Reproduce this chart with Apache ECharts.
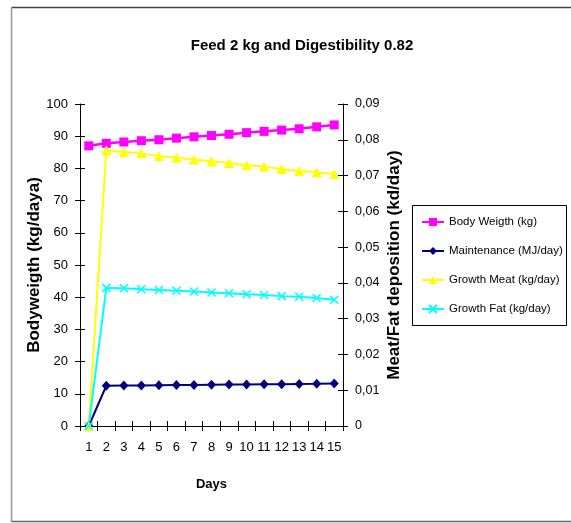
<!DOCTYPE html>
<html>
<head>
<meta charset="utf-8">
<script src="https://cdn.jsdelivr.net/npm/echarts@6/dist/echarts.min.js"></script>
<style>html,body{margin:0;padding:0;background:#fff;}#c{width:571px;height:523px;}</style>
</head>
<body>
<div id="c"></div>
<script>
const days = ['1','2','3','4','5','6','7','8','9','10','11','12','13','14','15'];
const bodyWeight = [87.0, 87.8, 88.2, 88.6, 88.9, 89.4, 89.8, 90.2, 90.6, 91.1, 91.5, 91.9, 92.3, 92.9, 93.5];
const maintenance = [0, 12.5, 12.55, 12.6, 12.65, 12.7, 12.75, 12.8, 12.85, 12.9, 12.95, 13.0, 13.05, 13.1, 13.2];
const growthMeat = [0, 0.0771, 0.0766, 0.0762, 0.0755, 0.0750, 0.0745, 0.0740, 0.0735, 0.0729, 0.0725, 0.0718, 0.0713, 0.0709, 0.0704];
const growthFat = [0, 0.0386, 0.0385, 0.0382, 0.0380, 0.0378, 0.0376, 0.0373, 0.0371, 0.0368, 0.0366, 0.0363, 0.0361, 0.0358, 0.0353];
const seriesNames = ['Body Weigth (kg)', 'Maintenance (MJ/day)', 'Growth Meat (kg/day)', 'Growth Fat (kg/day)'];
const titleText = 'Feed 2 kg and Digestibility 0.82';
const xTitle = 'Days';
const leftTitle = 'Bodyweigth (kg/daya)';
const rightTitle = 'Meat/Fat deposition (kd/day)';

const SANS = "'Liberation Sans', Arial, sans-serif";

const chart = echarts.init(document.getElementById('c'), null, {renderer: 'canvas'});
const grid = {left: 80, right: 228, top: 104, bottom: 97};
const tickLine = {color: '#000', width: 1};
const option = {
  animation: false,
  backgroundColor: '#fff',
  title: {
    text: titleText, left: 297, top: 33, textAlign: 'center',
    textStyle: {fontFamily: SANS, fontSize: 15, fontWeight: 'bold', color: '#000'}
  },
  grid: grid,
  legend: {
    orient: 'vertical', left: 421, top: 215, itemWidth: 22, itemHeight: 10, itemGap: 15, padding: 0,
    data: seriesNames,
    textStyle: {fontFamily: SANS, fontSize: 11.5, color: '#000', lineHeight: 14}
  },
  xAxis: [{
    type: 'category', data: days, boundaryGap: true,
    name: xTitle, nameLocation: 'middle', nameGap: 52,
    nameTextStyle: {fontFamily: SANS, fontSize: 13, fontWeight: 'bold', color: '#000'},
    axisLine: {lineStyle: {color: '#000', width: 1}},
    axisTick: {show: true, length: 5, inside: false, lineStyle: tickLine},
    axisLabel: {fontFamily: SANS, fontSize: 13, color: '#000', margin: 15, interval: 0},
    splitLine: {show: false}
  }, {
    type: 'category', data: days, boundaryGap: true, position: 'bottom',
    axisLine: {show: false},
    axisTick: {show: true, length: 5, inside: true, lineStyle: tickLine},
    axisLabel: {show: false}, splitLine: {show: false}
  }],
  yAxis: [{
    type: 'value', min: 0, max: 100, interval: 10, position: 'left',
    name: leftTitle, nameLocation: 'middle', nameGap: 29, nameRotate: 90,
    nameTextStyle: {fontFamily: SANS, fontSize: 17, fontWeight: 'bold', color: '#000'},
    axisLine: {show: true, lineStyle: {color: '#000', width: 1}},
    axisTick: {show: true, length: 5, inside: false, lineStyle: tickLine},
    axisLabel: {fontFamily: SANS, fontSize: 13, color: '#000', margin: 12},
    splitLine: {show: false}
  }, {
    type: 'value', min: 0, max: 0.09, interval: 0.01, position: 'right',
    name: rightTitle, nameLocation: 'middle', nameGap: 43, nameRotate: 90,
    nameTextStyle: {fontFamily: SANS, fontSize: 17, fontWeight: 'bold', color: '#000'},
    axisLine: {show: true, lineStyle: {color: '#000', width: 1}},
    axisTick: {show: true, length: 5, inside: false, lineStyle: tickLine},
    axisLabel: {fontFamily: SANS, fontSize: 12.5, color: '#000', margin: 12,
      formatter: v => v === 0 ? '0' : v.toFixed(2).replace('.', ',')},
    splitLine: {show: false}
  }, {
    type: 'value', min: 0, max: 100, interval: 10, position: 'left',
    axisLine: {show: false},
    axisTick: {show: true, length: 5, inside: true, lineStyle: tickLine},
    axisLabel: {show: false}, splitLine: {show: false}
  }, {
    type: 'value', min: 0, max: 0.09, interval: 0.01, position: 'right',
    axisLine: {show: false},
    axisTick: {show: true, length: 5, inside: true, lineStyle: tickLine},
    axisLabel: {show: false}, splitLine: {show: false}
  }],
  graphic: [
    {type: 'line', shape: {x1: 11.5, y1: 7.5, x2: 571, y2: 7.5}, style: {stroke: '#444', lineWidth: 1.5}, silent: true},
    {type: 'line', shape: {x1: 11.5, y1: 7.5, x2: 11.5, y2: 521.5}, style: {stroke: '#999', lineWidth: 1.5}, silent: true},
    {type: 'line', shape: {x1: 11.5, y1: 521.5, x2: 571, y2: 521.5}, style: {stroke: '#666', lineWidth: 1.5}, silent: true},
    {type: 'rect', shape: {x: 412.5, y: 205.5, width: 154, height: 120}, style: {fill: 'none', stroke: '#000', lineWidth: 1}, silent: true, z: -1}
  ],
  series: [{
    name: seriesNames[0], type: 'line', data: bodyWeight, xAxisIndex: 0, yAxisIndex: 0,
    symbol: 'rect', symbolSize: 9, color: '#FF00FF',
    lineStyle: {color: '#FF00FF', width: 2.5}, itemStyle: {color: '#FF00FF'}
  }, {
    name: seriesNames[1], type: 'line', data: maintenance, xAxisIndex: 0, yAxisIndex: 0,
    symbol: 'diamond', symbolSize: [9, 10], color: '#000080',
    lineStyle: {color: '#000080', width: 2}, itemStyle: {color: '#000080'}
  }, {
    name: seriesNames[2], type: 'line', data: growthMeat, xAxisIndex: 0, yAxisIndex: 1,
    symbol: 'triangle', symbolSize: 10, color: '#FFFF00',
    lineStyle: {color: '#FFFF00', width: 2}, itemStyle: {color: '#FFFF00'}
  }, {
    name: seriesNames[3], type: 'line', data: growthFat, xAxisIndex: 0, yAxisIndex: 1,
    symbol: 'path://M0,0L10,10M10,0L0,10', symbolSize: 8, color: '#00FFFF',
    lineStyle: {color: '#00FFFF', width: 2},
    itemStyle: {color: '#00FFFF', borderColor: '#00FFFF', borderWidth: 1.5}
  }]
};
chart.setOption(option);
</script>
</body>
</html>
